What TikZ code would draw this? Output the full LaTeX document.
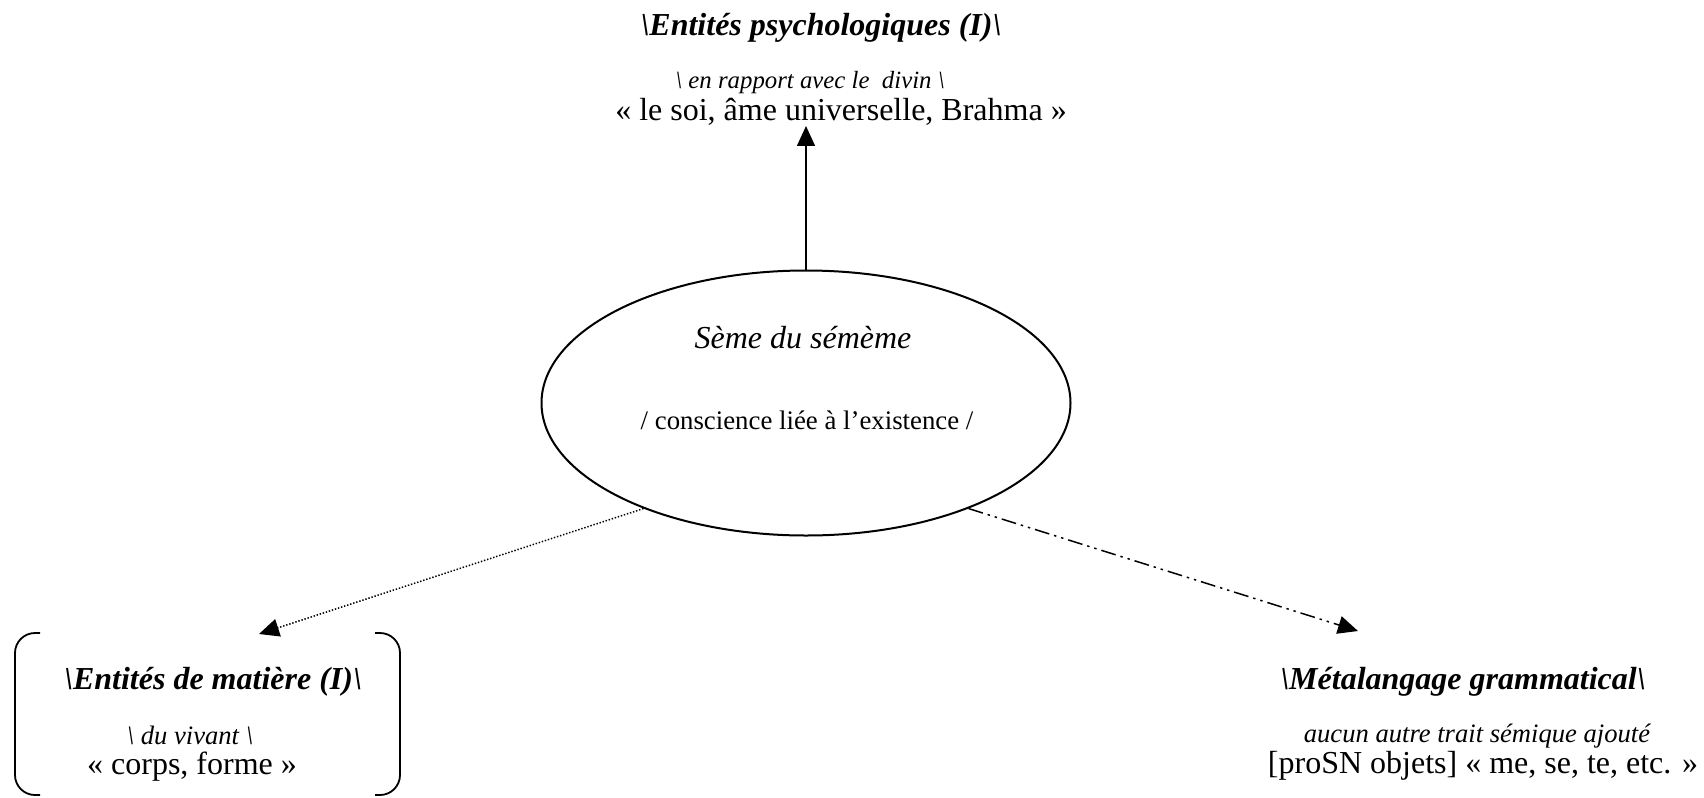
\documentclass[tikz,border=0pt]{standalone}
\usepackage{fontspec}
\setmainfont{Liberation Serif}
\usetikzlibrary{arrows.meta,positioning,shapes.geometric}

\begin{document}
\begin{tikzpicture}[x=0.5pt, y=-0.5pt, inner sep=0pt, >={Triangle[length=10pt,width=9pt]}]
\tikzstyle{titre}=[font=\fontsize{16}{19}\selectfont\bfseries\itshape]
\tikzstyle{note}=[font=\fontsize{13.3}{16}\selectfont\itshape]
\tikzstyle{exemple}=[font=\fontsize{16}{19}\selectfont]
\tikzstyle{fleche}=[->, line width=0.75pt]
\tikzstyle{crochet}=[line width=0.9pt, rounded corners=10pt]
\useasboundingbox (0,0) rectangle (1704,798);
% noeud central
\node[ellipse, draw, line width=1pt, minimum width=264.5pt, minimum height=132.5pt] (seme) at (806,403) {};
\node[font=\fontsize{16}{19}\selectfont\itshape] (semeTitre) at (803,338) {Sème du sémème};
\node[font=\fontsize{13.4}{16}\selectfont] (semeNote) at (807,420) {/ conscience liée à l’existence /};
% haut
\node[titre] (psyTitre) at (821,28) {\textbackslash Entités psychologiques (I)\textbackslash};
\node[note, font=\fontsize{12.4}{15}\selectfont\itshape] (psyNote) at (810,83) {\textbackslash{} en rapport avec le\ \ divin \textbackslash};
\node[exemple] (psyEx) at (841,112) {« le soi, âme universelle, Brahma »};
% gauche
\node[titre] (matTitre) at (213,682) {\textbackslash Entités de matière (I)\textbackslash};
\node[note] (matNote) at (190,735) {\textbackslash{} du vivant \textbackslash};
\node[exemple] (matEx) at (192,767) {« corps, forme »};
\draw[crochet] (40,633) -- (15,633) -- (15,795) -- (40,795);
\draw[crochet] (375,633) -- (400,633) -- (400,795) -- (375,795);
% droite
\node[titre] (metaTitre) at (1463,682) {\textbackslash Métalangage grammatical\textbackslash};
\node[note] (metaNote) at (1477,736) {aucun autre trait sémique ajouté};
\node[exemple] (metaEx) at (1483,766) {[proSN objets] « me, se, te, etc. »};
% fleches
\coordinate (matIn) at (259,634);
\coordinate (metaIn) at (1358,631);
\draw[fleche] (seme.north) -- (seme.north |- psyEx.south);
\draw[fleche, dash pattern=on 0.7pt off 0.9pt] (seme.213) -- (matIn);
\draw[fleche, dash pattern=on 7.5pt off 2.5pt on 1.2pt off 2.5pt on 1.2pt off 2.5pt] (seme.327) -- (metaIn);
\end{tikzpicture}
\end{document}
